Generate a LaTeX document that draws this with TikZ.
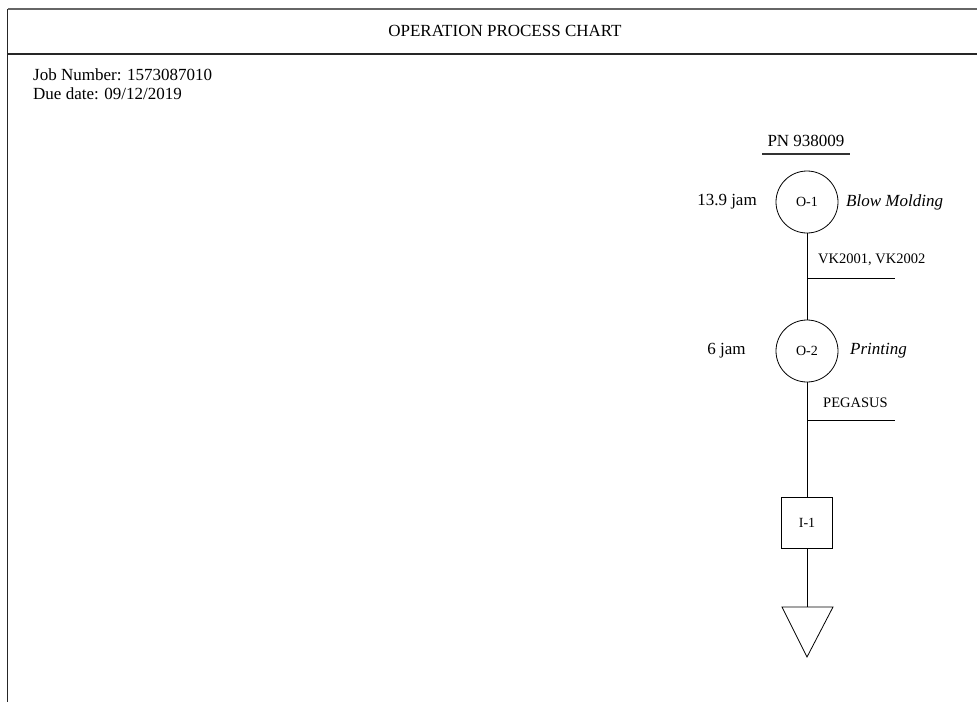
\documentclass[tikz,border=0pt]{standalone}
\usepackage{fontspec}
\setmainfont{Liberation Serif}
\begin{document}
\begin{tikzpicture}[x=1pt,y=-1pt,
  big/.style={font=\fontsize{17}{20}\selectfont, inner sep=0pt},
  small/.style={font=\fontsize{14.5}{17}\selectfont, inner sep=0pt},
  opcircle/.style={draw, circle, minimum size=62pt, inner sep=0pt, line width=0.8pt, font=\fontsize{14}{17}\selectfont},
  inspbox/.style={draw, rectangle, minimum size=51pt, inner sep=0pt, line width=0.8pt, font=\fontsize{14}{17}\selectfont},
  flow/.style={line width=0.9pt},
  frameline/.style={line width=1.4pt, black!85}]
\useasboundingbox (0,0) rectangle (977,702);
% frame
\coordinate (tl) at (7.5,9);
\coordinate (tr) at (977,9);
\coordinate (bl) at (7.5,702);
\coordinate (sl) at (7.5,54);
\coordinate (sr) at (977,54);
\draw[line width=1.2pt, black!60] (tl) -- (tr);
\draw[frameline] (sl) -- (sr);
\draw[frameline] (tl) -- (bl);
% header texts
\node[big] (title) at (505,31) {OPERATION PROCESS CHART};
\node[big, anchor=west] (job) at (33,74.5) {Job Number: 1573087010};
\node[big, anchor=west] (due) at (33,93.5) {Due date: 09/12/2019};
% part number
\node[big] (pn) at (806,141) {PN 938009};
\coordinate (ul1) at (762,154);
\coordinate (ul2) at (850,154);
\draw[line width=1.1pt, black!80] (ul1) -- (ul2);
% O-1
\node[opcircle] (o1) at (807,202) {O-1};
\node[big] (t1) at (727,202) {13.9 jam};
\node[big, anchor=west] (d1) at (846,202) {\itshape Blow Molding};
% O-2
\node[opcircle] (o2) at (807,351) {O-2};
\node[big] (t2) at (726.5,351) {6 jam};
\node[big, anchor=west] (d2) at (850,351) {\itshape Printing};
% materials
\coordinate (m1a) at (807,278);
\coordinate (m1b) at (895,278);
\node[small, anchor=west] (m1) at (818,260) {VK2001, VK2002};
\coordinate (m2a) at (807,420);
\coordinate (m2b) at (895,420);
\node[small, anchor=west] (m2) at (823,403) {PEGASUS};
% inspection
\node[inspbox] (i1) at (807,523) {I-1};
% storage triangle
\coordinate (s1) at (807,607);
\coordinate (s1l) at (782,607);
\coordinate (s1r) at (833,607);
\coordinate (s1b) at (807,657);
\draw[line width=0.8pt] (s1l) -- (s1r) -- (s1b) -- cycle;
% connectors
\draw[flow] (o1.south) -- (o2.north);
\draw[flow] (m1a) -- (m1b);
\draw[flow] (o2.south) -- (i1.north);
\draw[flow] (m2a) -- (m2b);
\draw[flow] (i1.south) -- (s1);
\end{tikzpicture}
\end{document}
